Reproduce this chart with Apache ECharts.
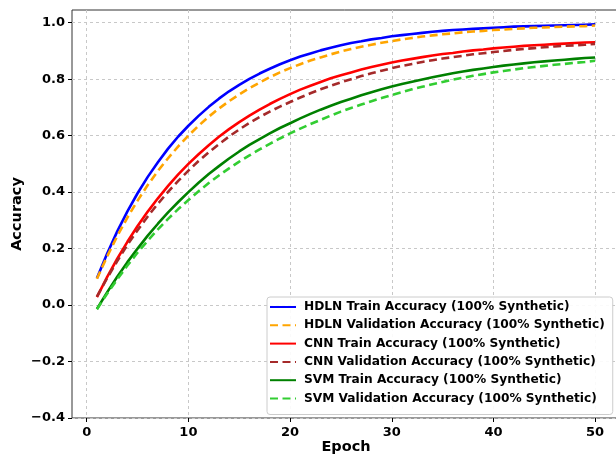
<!DOCTYPE html>
<html>
  <head>
    <meta charset="UTF-8" />
    <title>Accuracy vs Epoch</title>
    <script src="https://cdn.jsdelivr.net/npm/echarts@6/dist/echarts.min.js"></script>
    <style>
      html, body { margin: 0; padding: 0; background: #fff; }
      #chart { width: 616px; height: 459px; }
    </style>
  </head>
  <body>
    <div id="chart"></div>
    <script>
      const epochs = Array.from({ length: 50 }, (_, i) => i + 1);
      const xTicks = [0, 10, 20, 30, 40, 50];
      const yTicks = [-0.4, -0.2, 0.0, 0.2, 0.4, 0.6, 0.8, 1.0];

      const hdlnTrain = [
        0.095, 0.182, 0.261, 0.332, 0.396, 0.454, 0.506, 0.554, 0.597, 0.635,
        0.670, 0.702, 0.731, 0.757, 0.780, 0.801, 0.820, 0.837, 0.853, 0.867,
        0.880, 0.891, 0.902, 0.911, 0.920, 0.928, 0.934, 0.941, 0.946, 0.952,
        0.956, 0.960, 0.964, 0.968, 0.971, 0.974, 0.976, 0.978, 0.980, 0.982,
        0.984, 0.986, 0.987, 0.988, 0.989, 0.990, 0.991, 0.992, 0.993, 0.994
      ];
      const hdlnVal = [
        0.093, 0.172, 0.244, 0.310, 0.370, 0.425, 0.475, 0.520, 0.562, 0.600,
        0.635, 0.667, 0.696, 0.722, 0.746, 0.768, 0.788, 0.807, 0.824, 0.839,
        0.853, 0.866, 0.877, 0.888, 0.898, 0.907, 0.915, 0.922, 0.929, 0.935,
        0.941, 0.946, 0.951, 0.955, 0.959, 0.962, 0.966, 0.969, 0.971, 0.974,
        0.976, 0.978, 0.980, 0.982, 0.983, 0.985, 0.986, 0.987, 0.988, 0.990
      ];
      const cnnTrain = [
        0.028, 0.099, 0.164, 0.224, 0.280, 0.331, 0.378, 0.422, 0.463, 0.500,
        0.534, 0.566, 0.596, 0.623, 0.648, 0.671, 0.692, 0.712, 0.730, 0.747,
        0.763, 0.777, 0.790, 0.803, 0.814, 0.824, 0.834, 0.843, 0.851, 0.859,
        0.866, 0.872, 0.878, 0.884, 0.889, 0.893, 0.898, 0.902, 0.905, 0.909,
        0.912, 0.915, 0.918, 0.920, 0.922, 0.924, 0.926, 0.928, 0.930, 0.931
      ];
      const cnnVal = [
        0.030, 0.095, 0.156, 0.213, 0.265, 0.314, 0.359, 0.401, 0.440, 0.476,
        0.510, 0.541, 0.570, 0.597, 0.622, 0.645, 0.666, 0.685, 0.703, 0.719,
        0.735, 0.750, 0.764, 0.777, 0.789, 0.800, 0.811, 0.821, 0.830, 0.839,
        0.847, 0.854, 0.861, 0.867, 0.873, 0.878, 0.883, 0.888, 0.892, 0.896,
        0.900, 0.904, 0.907, 0.910, 0.913, 0.916, 0.918, 0.920, 0.922, 0.925
      ];
      const svmTrain = [
        -0.014, 0.045, 0.100, 0.152, 0.200, 0.246, 0.288, 0.328, 0.365, 0.400,
        0.433, 0.464, 0.492, 0.519, 0.544, 0.567, 0.588, 0.608, 0.627, 0.644,
        0.661, 0.677, 0.692, 0.706, 0.719, 0.731, 0.743, 0.754, 0.764, 0.774,
        0.783, 0.791, 0.799, 0.807, 0.814, 0.821, 0.827, 0.833, 0.838, 0.843,
        0.848, 0.852, 0.856, 0.860, 0.863, 0.866, 0.869, 0.872, 0.875, 0.877
      ];
      const svmVal = [
        -0.015, 0.040, 0.091, 0.140, 0.186, 0.228, 0.268, 0.305, 0.340, 0.372,
        0.403, 0.432, 0.459, 0.484, 0.508, 0.530, 0.551, 0.571, 0.590, 0.608,
        0.625, 0.641, 0.656, 0.671, 0.685, 0.698, 0.710, 0.722, 0.733, 0.744,
        0.754, 0.764, 0.773, 0.782, 0.790, 0.798, 0.805, 0.812, 0.818, 0.824,
        0.829, 0.834, 0.839, 0.843, 0.847, 0.851, 0.854, 0.858, 0.861, 0.865
      ];

      const seriesDefs = [
        { name: "HDLN Train Accuracy (100% Synthetic)", data: hdlnTrain, color: "#0000ff", type: "solid" },
        { name: "HDLN Validation Accuracy (100% Synthetic)", data: hdlnVal, color: "#ffa500", type: "dashed" },
        { name: "CNN Train Accuracy (100% Synthetic)", data: cnnTrain, color: "#ff0000", type: "solid" },
        { name: "CNN Validation Accuracy (100% Synthetic)", data: cnnVal, color: "#a52a2a", type: "dashed" },
        { name: "SVM Train Accuracy (100% Synthetic)", data: svmTrain, color: "#008000", type: "solid" },
        { name: "SVM Validation Accuracy (100% Synthetic)", data: svmVal, color: "#32cd32", type: "dashed" }
      ];

      const font = "DejaVu Sans";
      const fmt = (v) => v.toFixed(1).replace("-", "\u2212");

      const chart = echarts.init(document.getElementById("chart"));
      chart.setOption({
        animation: false,
        grid: {
          left: 72, top: 10, width: 548, height: 408,
          outerBoundsMode: "none",
          show: true, borderColor: "#333", borderWidth: 1, backgroundColor: "transparent"
        },
        legend: {
          orient: "vertical",
          left: 267, top: 297,
          itemWidth: 26, itemHeight: 14, itemGap: 4.3,
          padding: [3, 8, 9, 2],
          backgroundColor: "rgba(255,255,255,0.9)",
          borderColor: "#cccccc", borderWidth: 1, borderRadius: 3,
          itemStyle: { opacity: 0 },
          textStyle: { fontFamily: font, fontWeight: "bold", fontSize: 12.2, color: "#000", padding: [0, 0, 0, 3], lineHeight: 14 },
          data: seriesDefs.map((s) => s.name)
        },
        xAxis: {
          type: "value", min: -1.45, max: 52.45,
          name: "Epoch", nameLocation: "middle", nameGap: 22, nameMoveOverlap: false,
          nameTextStyle: { fontFamily: font, fontWeight: "bold", fontSize: 14.5, color: "#000" },
          axisLine: { show: false, onZero: false },
          axisTick: { show: true, length: 4, customValues: xTicks, lineStyle: { color: "#000" } },
          axisLabel: { customValues: xTicks, margin: 8, fontFamily: font, fontWeight: "bold", fontSize: 13, color: "#000" },
          splitLine: { show: true, lineStyle: { color: "#c8c8c8", type: [3, 3], width: 1 } }
        },
        yAxis: {
          type: "value", min: -0.4, max: 1.045,
          name: "Accuracy", nameLocation: "middle", nameGap: 47, nameMoveOverlap: false,
          nameTextStyle: { fontFamily: font, fontWeight: "bold", fontSize: 14.5, color: "#000" },
          axisLine: { show: false, onZero: false },
          axisTick: { show: true, length: 4, customValues: yTicks, lineStyle: { color: "#000" } },
          axisLabel: { customValues: yTicks, margin: 7, formatter: fmt, fontFamily: font, fontWeight: "bold", fontSize: 13, color: "#000" },
          splitLine: { show: true, lineStyle: { color: "#c8c8c8", type: [3, 3], width: 1 } }
        },
        series: seriesDefs.map((s) => ({
          name: s.name,
          type: "line",
          showSymbol: false,
          symbol: "none",
          data: epochs.map((e, i) => [e, s.data[i]]),
          itemStyle: { color: s.color },
          lineStyle: { color: s.color, width: 2.6, type: s.type === "dashed" ? [8, 4.5] : "solid" }
        }))
      });
    </script>
  </body>
</html>
